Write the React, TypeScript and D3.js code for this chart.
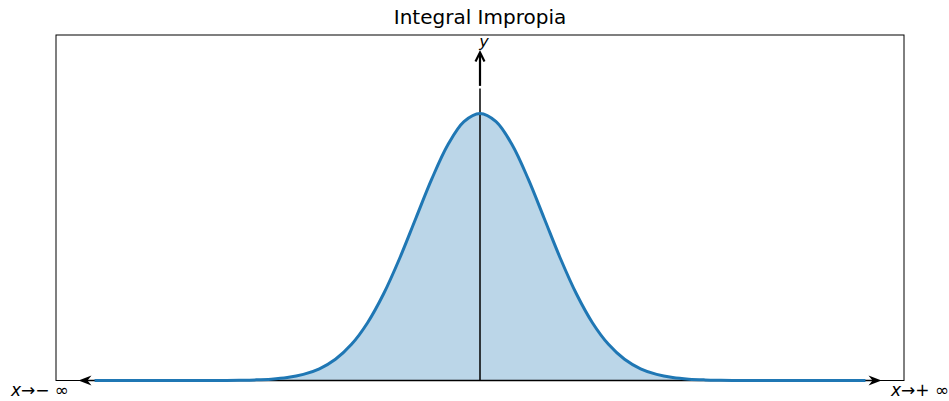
import React from "react";
import * as d3 from "d3";

const xValues = [
  -6, -5.75, -5.5, -5.25, -5, -4.75, -4.5, -4.25, -4, -3.75, -3.5, -3.25, -3, -2.75, -2.5, -2.25, -2, -1.75, -1.5, -1.25, -1,
  -0.75, -0.5, -0.25, 0, 0.25, 0.5, 0.75, 1, 1.25, 1.5, 1.75, 2, 2.25, 2.5, 2.75, 3, 3.25, 3.5, 3.75, 4, 4.25, 4.5, 4.75,
  5, 5.25, 5.5, 5.75, 6,
];
const yValues = [
  0, 0, 0, 0, 0, 0, 0, 0, 0.0001, 0.0004, 0.0009, 0.002, 0.0044, 0.0091, 0.0175, 0.0317, 0.054, 0.0863, 0.1295, 0.1826, 0.242,
  0.3011, 0.3521, 0.3867, 0.3989, 0.3867, 0.3521, 0.3011, 0.242, 0.1826, 0.1295, 0.0863, 0.054, 0.0317, 0.0175, 0.0091, 0.0044,
  0.002, 0.0009, 0.0004, 0.0001, 0, 0, 0, 0, 0, 0, 0, 0,
];
const xDomain = [-6.6, 6.6];
const yDomain = [0, 0.516];
const arrowTips = [-6.25, 6.25];
const yAxisLineTop = 0.436;
const yArrow = [0.44, 0.49];
const yLabelPos = 0.505;
const titleText = "Integral Impropia";

const W = 949;
const H = 401;
const L = 56, R = 904, T = 35, B = 380.5;

export default function App() {
  const x = d3.scaleLinear().domain(xDomain).range([L, R]);
  const y = d3.scaleLinear().domain(yDomain).range([B, T]);
  const pts = xValues.map((v, i) => [v, yValues[i]] as [number, number]);
  const line = d3.line<[number, number]>().x(d => x(d[0])).y(d => y(d[1])).curve(d3.curveCatmullRom);
  const area = d3.area<[number, number]>().x(d => x(d[0])).y0(y(0)).y1(d => y(d[1])).curve(d3.curveCatmullRom);
  const x0 = x(0);
  const y0 = y(0);

  const dart = (tipX: number, dir: number) => {
    const len = 13, hw = 5, notch = 4;
    const bx = tipX - dir * len;
    return `M${tipX},${y0} L${bx},${y0 - hw} L${bx + dir * notch},${y0} L${bx},${y0 + hw} Z`;
  };

  const yTip = y(yArrow[1]);
  const yTail = y(yArrow[0]);

  const font = "DejaVu Sans, sans-serif";

  return (
    <svg width={W} height={H} style={{ position: "absolute", left: 0, top: 0, background: "#fff" }}>
      <rect x={0} y={0} width={W} height={H} fill="#fff" />
      <text x={x0} y={24} textAnchor="middle" fontFamily={font} fontSize={20} fill="#000">{titleText}</text>
      <path d={area(pts) || ""} fill="#1f77b4" fillOpacity={0.3} stroke="none" />
      <rect x={L} y={T} width={R - L} height={B - T} fill="none" stroke="#000" strokeWidth={1} />
      <line x1={x0} y1={y0} x2={x(arrowTips[0]) + 8} y2={y0} stroke="#000" strokeWidth={1.5} />
      <line x1={x0} y1={y0} x2={x(arrowTips[1]) - 8} y2={y0} stroke="#000" strokeWidth={1.5} />
      <path d={dart(x(arrowTips[0]), -1)} fill="#000" />
      <path d={dart(x(arrowTips[1]), 1)} fill="#000" />
      <line x1={x0} y1={y0} x2={x0} y2={y(yAxisLineTop)} stroke="#000" strokeWidth={1.5} />
      <path d={line(pts) || ""} fill="none" stroke="#1f77b4" strokeWidth={3} strokeLinejoin="round" />
      <line x1={x0} y1={yTail} x2={x0} y2={yTip + 1} stroke="#000" strokeWidth={2.2} />
      <path d={`M${x0 - 4.5},${yTip + 9} L${x0},${yTip} L${x0 + 4.5},${yTip + 9}`} fill="none" stroke="#000" strokeWidth={2.2} strokeLinejoin="miter" />
      <text x={x0 + 4} y={y(yLabelPos) + 5} textAnchor="middle" fontFamily={font} fontStyle="italic" fontSize={16} fill="#000">y</text>
      <text x={x(-6.85)} y={396} textAnchor="middle" fontFamily={font} fontSize={17} fill="#000">
        <tspan fontStyle="italic">x</tspan><tspan>→− ∞</tspan>
      </text>
      <text x={x(6.85)} y={396} textAnchor="middle" fontFamily={font} fontSize={17} fill="#000">
        <tspan fontStyle="italic">x</tspan><tspan>→+ ∞</tspan>
      </text>
    </svg>
  );
}
